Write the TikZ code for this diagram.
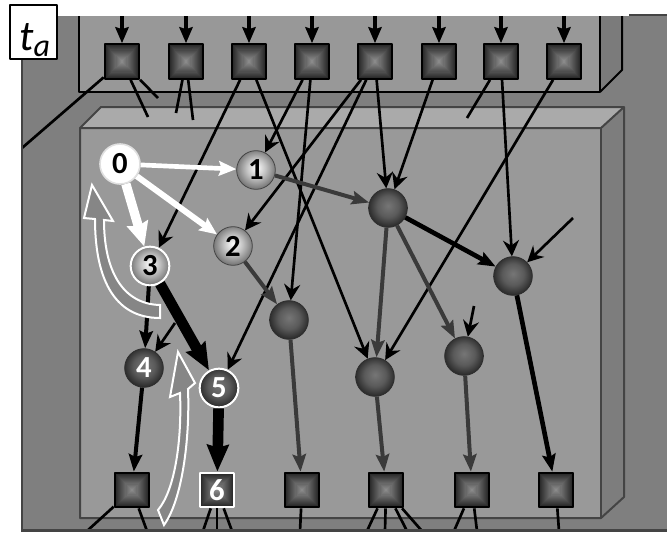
\documentclass[tikz,border=0pt]{standalone}
\usepackage{fontspec}
\setmainfont{Carlito}
\usetikzlibrary{arrows.meta}
\definecolor{panelgray}{HTML}{7F7F7F}
\definecolor{framegray}{HTML}{989898}
\definecolor{sidegray}{HTML}{7B7B7B}
\definecolor{boxfront}{HTML}{999999}
\definecolor{boxtop}{HTML}{AAAAAA}
\definecolor{boxside}{HTML}{7D7D7D}
\definecolor{edgegray}{HTML}{3A3A3A}
\definecolor{outlinegray}{HTML}{444444}
\definecolor{hollowfill}{HTML}{868686}
\definecolor{sqin}{HTML}{8A8A8A}
\definecolor{sqout}{HTML}{262626}
\definecolor{ballin}{HTML}{767676}
\definecolor{ballmid}{HTML}{5A5A5A}
\definecolor{ballout}{HTML}{2E2E2E}
\definecolor{lightmid}{HTML}{C4C4C4}
\definecolor{lightout}{HTML}{7A7A7A}
\pgfdeclareradialshading{darkshade}{\pgfpoint{0bp}{3bp}}{color(0bp)=(ballin); color(14bp)=(ballmid); color(25bp)=(ballout); color(50bp)=(ballout)}
\pgfdeclareradialshading{lightshade}{\pgfpoint{0bp}{3bp}}{color(0bp)=(white); color(12bp)=(lightmid); color(25bp)=(lightout); color(50bp)=(lightout)}
\newcommand\lblf{\fontsize{23}{23}\selectfont\bfseries}
\begin{document}
\begin{tikzpicture}[x=0.75pt,y=-0.75pt,line join=round,
  sqbox/.style={rectangle,minimum size=26pt,inner sep=0pt,draw=black,line width=1.5pt,text=white,font=\lblf,
    path picture={
      \foreach \k in {0,...,15}{
        \pgfmathsetmacro\hs{13.2*(1-\k/16)}
        \pgfmathtruncatemacro\pc{100*\k/15}
        \fill[sqin!\pc!sqout] ([xshift=-\hs pt,yshift=-\hs pt]path picture bounding box.center) rectangle ([xshift=\hs pt,yshift=\hs pt]path picture bounding box.center);
      }
    }},
  darkball/.style={circle,minimum size=29pt,inner sep=0pt,draw=ballout,line width=0.6pt,shading=darkshade,text=white,font=\lblf},
  lightball/.style={circle,minimum size=29pt,inner sep=0pt,draw=outlinegray,line width=0.6pt,shading=lightshade,text=black,font=\lblf},
  whiteball/.style={circle,minimum size=30pt,inner sep=0pt,draw=white!88!black,line width=1.2pt,fill=white,text=black,font=\lblf},
  inarr/.style={draw=black,line width=2.4pt,-{Stealth[length=12pt,width=10pt,inset=1.5pt]}},
  blk/.style={draw=black,line width=2pt,-{Stealth[length=12pt,width=12pt,inset=4pt]}},
  blkmed/.style={draw=black,line width=3pt,-{Stealth[length=13pt,width=10pt,inset=2pt]}},
  blkthick/.style={draw=black,line width=8pt,-{Stealth[length=20pt,width=16pt,inset=2pt]}},
  gry/.style={draw=edgegray,line width=3pt,-{Stealth[length=13pt,width=10pt,inset=2pt]}},
  wht/.style={draw=white,line width=#1,-{Stealth[length=13pt,width=11pt,inset=2pt]}},
  whtbig/.style={draw=white,line width=7pt,-{Stealth[length=18pt,width=16pt,inset=2pt]}},
  stub/.style={draw=black,line width=2pt},
  hollow/.style={fill=hollowfill,draw=white,line width=1.5pt,line join=miter}
]
\useasboundingbox (0,0) rectangle (667,532);
\fill[white] (0,0) rectangle (667,532);
% outer panel
\fill[panelgray] (22,16) rectangle (667,532);
\fill[panelgray] (629,14) rectangle (667,16);
\draw[outlinegray,line width=1.5pt] (629,14.5) -- (667,14.5);
% top frame
\fill[framegray] (79,16) rectangle (600,92);
\fill[sidegray] (600,16) -- (600,92) -- (622,70) -- (622,16) -- cycle;
\draw[black,line width=1.5pt] (79,16) -- (79,92) -- (600,92) -- (600,16);
\draw[black,line width=1.5pt] (600,92) -- (622,70) -- (622,16);
% inner box
\fill[boxtop] (80,128) -- (101,107) -- (624,107) -- (601,128) -- cycle;
\fill[boxside] (601,128) -- (624,107) -- (624,497) -- (601,518) -- cycle;
\fill[boxfront] (80,128) rectangle (601,518);
\draw[outlinegray,line width=1.5pt] (80,128) -- (101,107) -- (624,107) -- (624,497) -- (601,518) -- (80,518) -- cycle;
\draw[outlinegray,line width=1.5pt] (80,128) -- (601,128) -- (624,107);
\draw[outlinegray,line width=1.5pt] (601,128) -- (601,518);

% top squares
\foreach \i/\x in {1/122,2/186,3/249,4/312,5/375,6/439,7/501,8/564}{
  \node[sqbox] (T\i) at (\x,61.5) {};
  \coordinate (I\i) at (\x,16);
}
% bottom squares
\node[sqbox] (B1) at (132,490) {};
\node[sqbox,draw=white] (B2) at (217,490) {6};
\node[sqbox] (B3) at (302,490) {};
\node[sqbox] (B4) at (386,490) {};
\node[sqbox] (B5) at (472,490) {};
\node[sqbox] (B6) at (556,490) {};
% circles
\node[whiteball] (n0) at (120,164) {0};
\node[lightball] (n1) at (256,170) {1};
\node[lightball] (n2) at (233,246) {2};
\node[lightball,draw=white,line width=1.5pt] (n3) at (150,266) {3};
\node[darkball] (n4) at (144,368) {4};
\node[darkball,draw=white,line width=1.5pt] (n5) at (219,388) {5};
\node[darkball] (u1) at (289,320) {};
\node[darkball] (big) at (388,208) {};
\node[darkball] (r1) at (513,276) {};
\node[darkball] (m1) at (375,377) {};
\node[darkball] (m2) at (464,356) {};

% free ends
\coordinate (c1) at (22,148);
\coordinate (c2) at (148,117);
\coordinate (c3) at (158,98);
\coordinate (c4) at (176,113);
\coordinate (c5) at (193,120);
\coordinate (c6) at (467,118);
\coordinate (s4) at (175,323);
\coordinate (sm2) at (474,306);
\coordinate (sr1) at (573,218);
\foreach \n/\x in {b1/87,b2/147,b3/203,b4/217,b5/232,b6/300,b7/367,b8/385,b9/407,b10/422,b11/454,b12/477,b13/559}{
  \coordinate (\n) at (\x,531);
}

% input arrows
\foreach \i in {1,...,8}{ \draw[inarr] (I\i) -- (T\i); }
% stubs
\draw[stub] (T1) -- (c1);
\draw[stub] (T1) -- (c2);
\draw[stub] (T1) -- (c3);
\draw[stub] (T2) -- (c4);
\draw[stub] (T2) -- (c5);
\draw[stub] (T7) -- (c6);
\draw[stub] (B1) -- (b1);
\draw[stub] (B1) -- (b2);
\draw[stub] (B2) -- (b3);
\draw[stub] (B2) -- (b4);
\draw[stub] (B2) -- (b5);
\draw[stub] (B3) -- (b6);
\draw[stub] (B4) -- (b7);
\draw[stub] (B4) -- (b8);
\draw[stub] (B4) -- (b9);
\draw[stub] (B4) -- (b10);
\draw[stub] (B5) -- (b11);
\draw[stub] (B5) -- (b12);
\draw[stub] (B6) -- (b13);
% black thin edges
\draw[blk] (T3) -- (n3);
\draw[blk] (T3) -- (m1);
\draw[blk] (T4) -- (n1);
\draw[blk] (T4) -- (u1);
\draw[blk] (T5) -- (n2);
\draw[blk] (T5) -- (n5);
\draw[blk] (T5) -- (big);
\draw[blk] (T6) -- (big);
\draw[blk] (T7) -- (r1);
\draw[blk] (T8) -- (m1);
\draw[blk] (s4) -- (n4);
\draw[blk] (sm2) -- (m2);
\draw[blk] (sr1) -- (r1);
% medium black
\draw[blkmed] (n3) -- (n4);
\draw[blkmed] (n4) -- (B1);
\draw[blkmed,line width=3.5pt] (big) -- (r1);
\draw[blkmed,line width=3.5pt] (r1) -- (B6);
% thick black
\draw[blkthick] (n3) -- (n5);
\draw[blkthick] (n5) -- (B2);
% gray edges
\draw[gry] (n1) -- (big);
\draw[gry] (n2) -- (u1);
\draw[gry] (big) -- (m1);
\draw[gry] (big) -- (m2);
\draw[gry] (u1) -- (B3);
\draw[gry] (m1) -- (B4);
\draw[gry] (m2) -- (B5);
% white edges
\draw[wht=3.5pt] (n0) -- (n1);
\draw[wht=4.5pt] (n0) -- (n2);
\draw[whtbig] (n0) -- (n3);

% hollow curved arrows
\draw[hollow] (160,305) .. controls (122,304) and (104,270) .. (104,220)
  -- (113,221) -- (92,185) -- (84,218) -- (95,219)
  .. controls (95,275) and (112,318) .. (160,318) -- cycle;
\draw[hollow] (158,510) .. controls (175,490) and (182,440) .. (180,393)
  -- (170,397) -- (178,352) -- (195,383) -- (188,389)
  .. controls (190,440) and (182,500) .. (164,525) -- cycle;

% borders of the outer panel
\draw[outlinegray,line width=1.5pt] (22,16) -- (22,530);
\draw[outlinegray,line width=2.5pt] (21,530.5) -- (667,530.5);

% time label
\draw[black,line width=1.5pt,fill=white] (10,5) rectangle (57,59);
\node[anchor=base west,inner sep=0pt] (tlab) at (19,50)
  {\fontsize{32}{32}\selectfont\itshape t\raisebox{-5pt}{\fontsize{24}{24}\selectfont a}};
\end{tikzpicture}
\end{document}
